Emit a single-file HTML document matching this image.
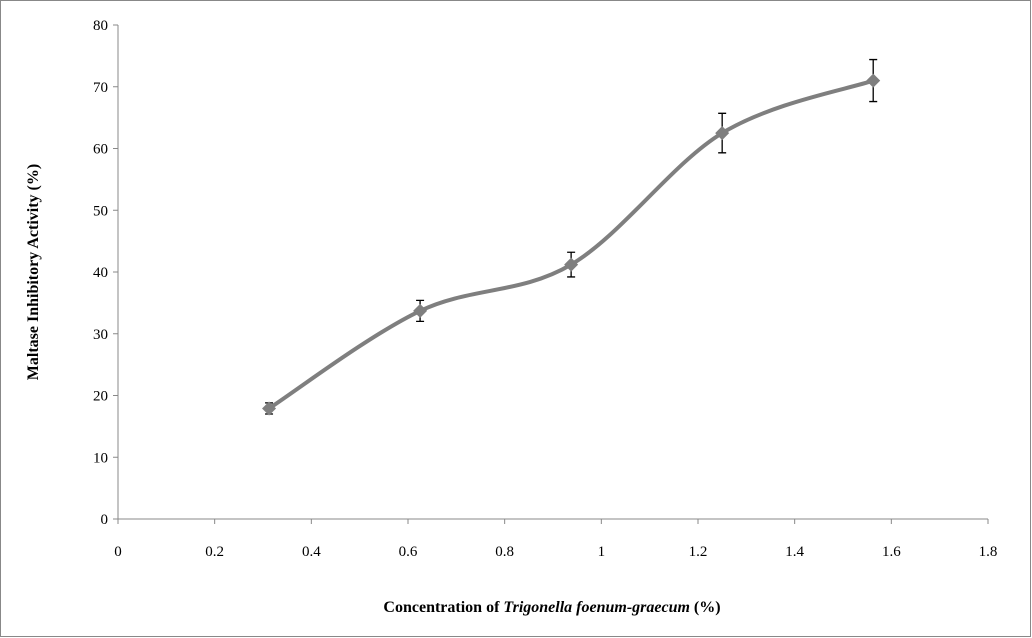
<!DOCTYPE html>
<html><head><meta charset="utf-8"><style>
body{margin:0;background:#fff;}
svg{display:block;font-family:"Liberation Serif",serif;}
</style></head><body>
<svg width="1032" height="638" viewBox="0 0 1032 638">
<rect x="0.5" y="0.5" width="1030" height="636" fill="#fff" stroke="#888"/>
<g id="axes"></g>
<g id="marks"></g>
<text x="552" y="612" text-anchor="middle" font-size="16" font-weight="bold">Concentration of <tspan font-style="italic">Trigonella foenum-graecum</tspan> (%)</text>
<text transform="translate(38,272) rotate(-90)" text-anchor="middle" font-size="16" font-weight="bold">Maltase Inhibitory Activity (%)</text>
</svg>
<script>
const xValues=[0.3125,0.625,0.9375,1.25,1.5625];
const yValues=[17.9,33.7,41.2,62.5,71.0];
const yErrors=[0.9,1.7,2.0,3.2,3.4];
const xTicks=[0,0.2,0.4,0.6,0.8,1,1.2,1.4,1.6,1.8];
const yTicks=[0,10,20,30,40,50,60,70,80];
const NS="http://www.w3.org/2000/svg";
const X0=118,X1=988,Y0=519,Y1=25;
const sx=v=>X0+(v-0)/(1.8-0)*(X1-X0);
const sy=v=>Y0-(v-0)/(80-0)*(Y0-Y1);
function mk(tag,attrs,parent){const e=document.createElementNS(NS,tag);for(const k in attrs)e.setAttribute(k,attrs[k]);parent.appendChild(e);return e;}
const ax=document.getElementById('axes'),mg=document.getElementById('marks');
let a=mk('line',{x1:X0,y1:Y1,x2:X0,y2:Y0,stroke:'#888'},ax);


a=mk('line',{x1:X0,y1:Y0,x2:X1,y2:Y0,stroke:'#888'},ax);


yTicks.forEach(t=>{const y=sy(t);
 const l=mk('line',{x1:X0-5,y1:y,x2:X0,y2:y,stroke:'#888'},ax);
 
 
 const tx=mk('text',{x:X0-10,y:y+5,'text-anchor':'end','font-size':15},ax);tx.textContent=t;
 
 
});
xTicks.forEach(t=>{const x=sx(t);
 const l=mk('line',{x1:x,y1:Y0,x2:x,y2:Y0+5,stroke:'#888'},ax);
 
 
 const tx=mk('text',{x:x,y:Y0+37,'text-anchor':'middle','font-size':15},ax);tx.textContent=t;
 
 
});
const P=xValues.map((v,i)=>[sx(v),sy(yValues[i])]);
let d=`M${P[0][0]},${P[0][1]}`;
for(let i=0;i<P.length-1;i++){const p0=P[i-1]||P[i],p1=P[i],p2=P[i+1],p3=P[i+2]||P[i+1];
 const c1=[p1[0]+(p2[0]-p0[0])/6,p1[1]+(p2[1]-p0[1])/6],c2=[p2[0]-(p3[0]-p1[0])/6,p2[1]-(p3[1]-p1[1])/6];
 d+=` C${c1[0]},${c1[1]} ${c2[0]},${c2[1]} ${p2[0]},${p2[1]}`;}
const line=mk('path',{d:d,fill:'none',stroke:'#7f7f7f','stroke-width':4},mg);


xValues.forEach((v,i)=>{const x=sx(v),y=sy(yValues[i]),yt=sy(yValues[i]+yErrors[i]),yb=sy(yValues[i]-yErrors[i]);
 const e=mk('path',{d:`M${x},${yt}V${yb}M${x-4},${yt}H${x+4}M${x-4},${yb}H${x+4}`,stroke:'#000','stroke-width':1.3,fill:'none'},mg);
 
 
 const m=mk('path',{d:`M${x},${y-7}L${x+7},${y}L${x},${y+7}L${x-7},${y}Z`,fill:'#7f7f7f'},mg);
 
 
});
</script>
</body></html>
